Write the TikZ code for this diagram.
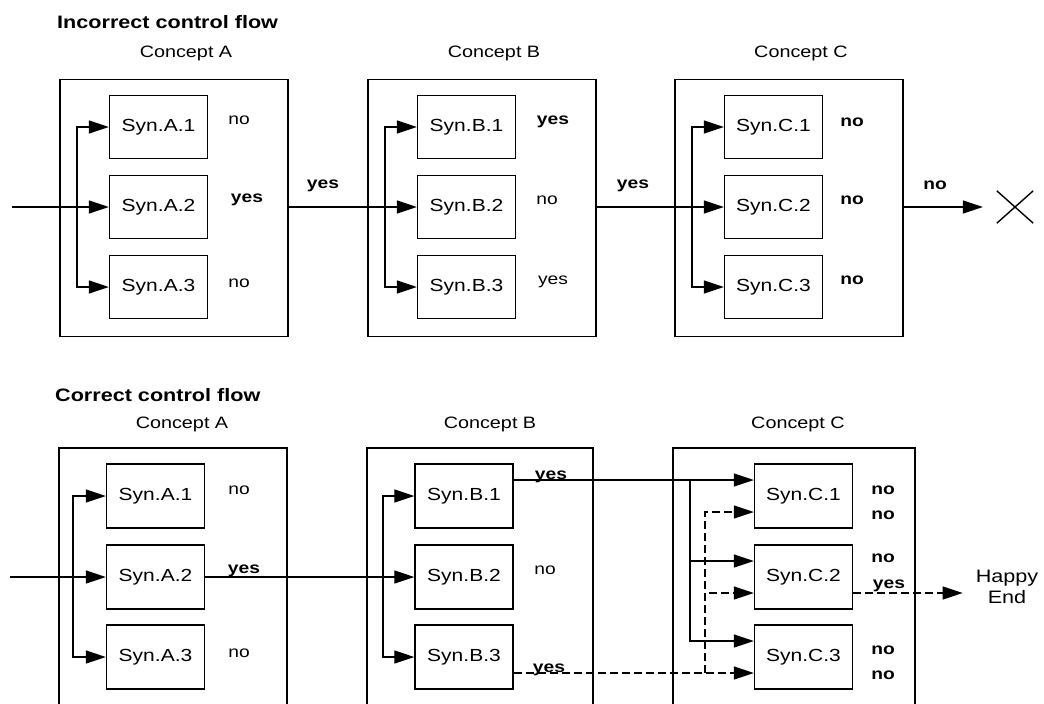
\documentclass[tikz,border=0pt]{standalone}
\usepackage{fontspec}
\setmainfont{Liberation Sans}[FakeStretch=1.2]
\usetikzlibrary{arrows.meta, positioning, calc, shapes.misc}

\begin{document}
\begin{tikzpicture}[x=1pt, y=-1pt, >={Triangle[length=20pt, width=13pt]}]
    \tikzset{
        conceptbox/.style={draw, line width=1.5pt, minimum width=228pt, minimum height=257pt, inner sep=0pt},
        synbox/.style={draw, line width=1.4pt, minimum width=98pt, minimum height=63pt, inner sep=0pt, font=\fontsize{17.5}{20}\selectfont},
        headlabel/.style={font=\fontsize{18}{22}\selectfont\bfseries, anchor=west, inner sep=0pt},
        conceptlabel/.style={font=\fontsize{16.5}{20}\selectfont, inner sep=0pt},
        outlabel/.style={font=\fontsize{16}{18}\selectfont, anchor=base, inner sep=0pt},
        outlabelb/.style={font=\fontsize{16}{18}\selectfont\bfseries, anchor=base, inner sep=0pt},
        flowline/.style={->, line width=1.3pt},
        altline/.style={flowline, dash pattern=on 8pt off 4pt}
    }
    \useasboundingbox (0,0) rectangle (1044,704);

    % incorrect control flow
    \node[headlabel] (inchead) at (57,22) {Incorrect control flow};
    \foreach \c/\x in {A/174, B/482, C/789} {
        \node[conceptbox] (t\c) at (\x,208) {};
        \node[conceptlabel] (t\c-title) at (\x+12,53) {Concept \c};
        \foreach \r/\y in {1/127, 2/207, 3/287}
            \node[synbox] (t\c\r) at (\x-15.5,\y) {Syn.\c.\r};
        \coordinate (t\c-bus) at (\x-97,207);
        \draw[flowline] (t\c-bus) |- (t\c1);
        \draw[flowline] (t\c-bus) |- (t\c3);
    }
    \node[draw, cross out, line width=1.4pt, minimum width=35pt, minimum height=31pt, inner sep=0pt] (fail) at (1015,207) {};

    \node[outlabel]  (tA1-res) at (239,124) {no};
    \node[outlabelb] (tA2-res) at (247,202) {yes};
    \node[outlabel]  (tA3-res) at (239,287) {no};
    \node[outlabelb] (tB1-res) at (553,124) {yes};
    \node[outlabel]  (tB2-res) at (547,204) {no};
    \node[outlabel]  (tB3-res) at (553,284) {yes};
    \node[outlabelb] (tC1-res) at (852,126) {no};
    \node[outlabelb] (tC2-res) at (852,204) {no};
    \node[outlabelb] (tC3-res) at (852,284) {no};
    \node[outlabelb] (tAB-res) at (323,188) {yes};
    \node[outlabelb] (tBC-res) at (633,188) {yes};
    \node[outlabelb] (tCX-res) at (935,189) {no};

    \coordinate (tin) at (12,207);
    \draw[flowline] (tin) -- (tA2);
    \draw[flowline] (tA.east |- tA2) -- (tB2);
    \draw[flowline] (tB.east |- tB2) -- (tC2);
    \draw[flowline, shorten >=14pt] (tC.east |- tC2) -- (fail.west);

    % correct control flow
    \node[headlabel] (corhead) at (55,395) {Correct control flow};
    \foreach \c/\x/\w/\s/\t in {A/173/228/155.5/182, B/480/226/464/490, C/794/242/803.5/798} {
        \node[conceptbox, minimum width=\w pt, minimum height=300pt] (b\c) at (\x,598) {};
        \node[conceptlabel] (b\c-title) at (\t,424) {Concept \c};
        \foreach \r/\y in {1/496, 2/577, 3/657}
            \node[synbox, minimum height=64pt] (b\c\r) at (\s,\y) {Syn.\c.\r};
    }
    \node[font=\fontsize{18}{21}\selectfont, align=center, inner sep=0pt] (happy) at (1007,587) {Happy\\End};

    \node[outlabel]  (bA1-res) at (239,494) {no};
    \node[outlabelb] (bA2-res) at (244,573) {yes};
    \node[outlabel]  (bA3-res) at (239,657) {no};
    \node[outlabelb] (bB1-res) at (551,479) {yes};
    \node[outlabel]  (bB2-res) at (545,574) {no};
    \node[outlabelb] (bB3-res) at (549,672) {yes};
    \node[outlabelb] (bC1-res) at (883,494) {no};
    \node[outlabelb] (bC1-alt) at (883,519) {no};
    \node[outlabelb] (bC2-res) at (883,562) {no};
    \node[outlabelb] (bC2-alt) at (889,588) {yes};
    \node[outlabelb] (bC3-res) at (883,654) {no};
    \node[outlabelb] (bC3-alt) at (883,679) {no};

    \coordinate (bin) at (10,577);
    \coordinate (bA-bus) at (73,577);
    \coordinate (bB-bus) at (383,577);
    \draw[flowline] (bin) -- (bA2);
    \draw[flowline] (bA-bus) |- (bA1);
    \draw[flowline] (bA-bus) |- (bA3);
    \draw[flowline] (bA2) -- (bB2);
    \draw[flowline] (bB-bus) |- (bB1);
    \draw[flowline] (bB-bus) |- (bB3);

    % yes from B.1 tries every synonym of C
    \coordinate (bC-bus) at (690,480);
    \draw[flowline] ([yshift=16pt]bB1.east) -- ([yshift=16pt]bC1.west);
    \draw[flowline] (bC-bus) |- ([yshift=16pt]bC2.west);
    \draw[flowline] (bC-bus) |- ([yshift=16pt]bC3.west);

    % yes from B.3 (dashed)
    \coordinate (bC-dbus) at (705,673);
    \draw[altline] ([yshift=-16pt]bB3.east) -- ([yshift=-16pt]bC3.west);
    \draw[altline] (bC-dbus) |- ([yshift=-16pt]bC1.west);
    \draw[altline] (bC-dbus) |- ([yshift=-16pt]bC2.west);
    \coordinate (bC2-out) at ([yshift=-16pt]bC2.east);
    \draw[altline, shorten >=13pt] (bC2-out) -- (bC2-out -| happy.west);
\end{tikzpicture}
\end{document}
